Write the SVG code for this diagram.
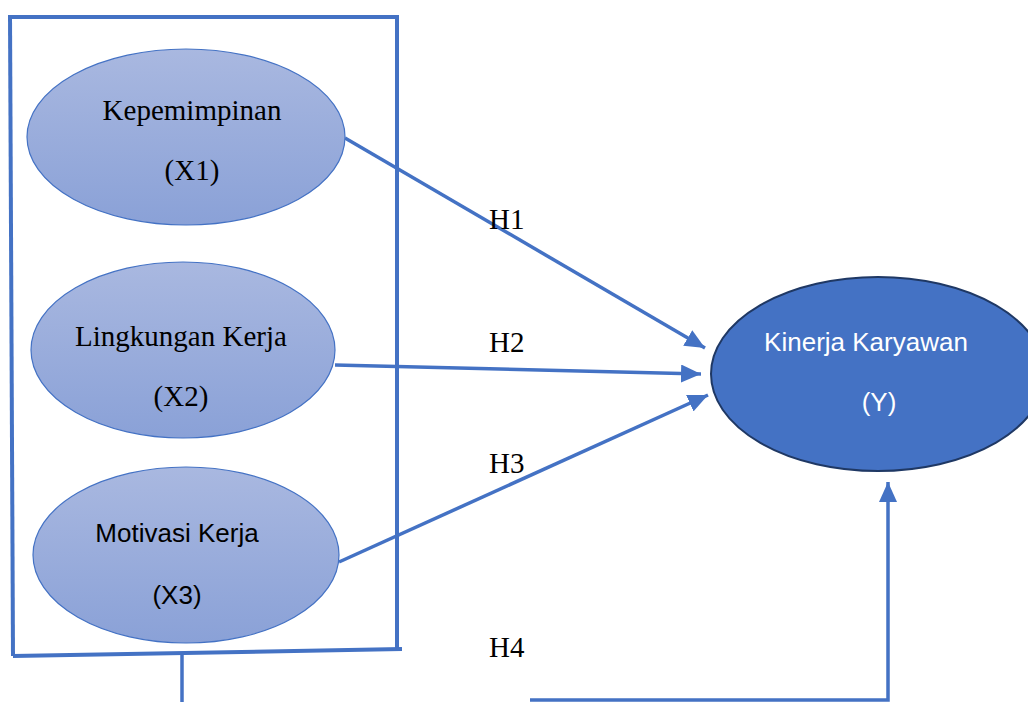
<svg xmlns="http://www.w3.org/2000/svg" width="1028" height="702" viewBox="0 0 1028 702">
  <style>
    .edge { fill: none; stroke: #4472c4; stroke-width: 3.5; }
    .frame { fill: none; stroke: #4472c4; stroke-width: 4; }
    .xnode { fill: url(#g); stroke: #4472c4; stroke-width: 1.2; }
    .serif { font-family: "Liberation Serif", "Times New Roman", serif; font-size: 29px; fill: #000; text-anchor: middle; }
    .sans { font-family: "Liberation Sans", Arial, sans-serif; font-size: 26px; fill: #000; text-anchor: middle; }
    .label { font-family: "Liberation Serif", "Times New Roman", serif; font-size: 29px; fill: #000; }
  </style>
  <defs>
    <linearGradient id="g" x1="0" y1="0" x2="0" y2="1">
      <stop offset="0" stop-color="#a9b8e0"/>
      <stop offset="1" stop-color="#8aa1d7"/>
    </linearGradient>
    <marker id="arr" markerUnits="userSpaceOnUse" markerWidth="22" markerHeight="18" refX="20" refY="9" orient="auto">
      <path d="M0,0 L20,9 L0,18 Z" fill="#4472c4"/>
    </marker>
  </defs>

  <g id="frame">
    <line class="frame" x1="10" y1="15" x2="13" y2="656"/>
    <line class="frame" x1="8" y1="17" x2="399" y2="17"/>
    <line class="frame" x1="397" y1="17" x2="397" y2="650"/>
    <line class="frame" x1="13" y1="656" x2="402" y2="649"/>
  </g>

  <g id="connectors">
    <line class="edge" x1="345" y1="138" x2="705" y2="348" marker-end="url(#arr)"/>
    <line class="edge" x1="335" y1="365" x2="701" y2="374" marker-end="url(#arr)"/>
    <line class="edge" x1="339" y1="562" x2="708" y2="395" marker-end="url(#arr)"/>
    <polyline class="edge" points="182,655 182,702"/>
    <polyline class="edge" points="530,700 888,700 888,482" marker-end="url(#arr)"/>
  </g>

  <g id="x1">
    <ellipse class="xnode" cx="186" cy="137" rx="159" ry="88"/>
    <text class="serif" x="192" y="120">Kepemimpinan</text>
    <text class="serif" x="192" y="180">(X1)</text>
  </g>
  <g id="x2">
    <ellipse class="xnode" cx="183" cy="350" rx="152" ry="88"/>
    <text class="serif" x="181" y="346">Lingkungan Kerja</text>
    <text class="serif" x="181" y="406">(X2)</text>
  </g>
  <g id="x3">
    <ellipse class="xnode" cx="186" cy="555" rx="153" ry="88"/>
    <text class="sans" x="177" y="542">Motivasi Kerja</text>
    <text class="sans" x="177" y="604">(X3)</text>
  </g>
  <g id="y">
    <ellipse cx="878" cy="374" rx="167" ry="97" fill="#4472c4" stroke="#1f3864" stroke-width="2"/>
    <text class="sans" x="866" y="351" style="fill:#fff">Kinerja Karyawan</text>
    <text class="sans" x="879" y="411" style="fill:#fff">(Y)</text>
  </g>

  <g id="labels">
    <text class="label" x="489" y="229">H1</text>
    <text class="label" x="489" y="352">H2</text>
    <text class="label" x="489" y="473">H3</text>
    <text class="label" x="489" y="657">H4</text>
  </g>
</svg>
